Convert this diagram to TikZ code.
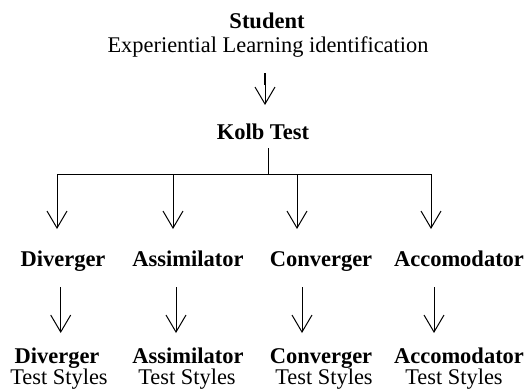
\documentclass[tikz,border=0pt]{standalone}
\usepackage{fontspec}
\setmainfont{Liberation Serif}
\usetikzlibrary{arrows.meta}
\begin{document}
\begin{tikzpicture}[x=1pt,y=-1pt,
  lbl/.style={inner sep=0pt,anchor=base,font=\fontsize{22.4}{24}\selectfont},
  blbl/.style={inner sep=0pt,anchor=base,font=\fontsize{22.5}{24}\selectfont\bfseries},
  arr/.style={line width=1pt,-{Straight Barb[length=17pt,width=20pt,line width=1pt]}},
  ln/.style={line width=1pt}]
\useasboundingbox (0,0) rectangle (527,389);
\node[blbl] (stu) at (267,28) {Student};
\node[lbl] (exp) at (268,52) {Experiential Learning identification};
\node[blbl] (kolb) at (263,139) {Kolb Test};
% first arrow
\coordinate (s0) at (265,73);
\coordinate (s0b) at (265,85);
\coordinate (e0) at (265,105);
\draw[line width=2.2pt] (s0) -- (s0b);
\draw[arr] (s0) -- (e0);
% tree
\coordinate (k0) at (268,148);
\coordinate (k1) at (268,174);
\coordinate (h1) at (57,174);
\coordinate (h2) at (173,174);
\coordinate (h3) at (297,174);
\coordinate (h4) at (431,174);
\draw[ln] (k0) -- (k1);
\draw[ln] (h1) -- (h4);
\foreach \i/\x in {1/57,2/173,3/297,4/431}{
  \coordinate (t\i) at (\x,229);
  \draw[arr] (h\i) -- (t\i);
}
% row 2 labels
\node[blbl] (div) at (63,266) {Diverger};
\node[blbl] (ass) at (188,266) {Assimilator};
\node[blbl] (con) at (321,266) {Converger};
\node[blbl] (acc) at (459,266) {Accomodator};
% second arrows
\foreach \i/\x in {1/60.7,2/176,3/302,4/434}{
  \coordinate (u\i) at (\x,287);
  \coordinate (v\i) at (\x,333);
  \draw[arr] (u\i) -- (v\i);
}
% bottom labels
\node[blbl] (divb) at (57,363) {Diverger};
\node[lbl] (divt) at (59,384) {Test Styles};
\node[blbl] (assb) at (188,363) {Assimilator};
\node[lbl] (asst) at (187,384) {Test Styles};
\node[blbl] (conb) at (321,363) {Converger};
\node[lbl] (cont) at (324,384) {Test Styles};
\node[blbl] (accb) at (459,363) {Accomodator};
\node[lbl] (acct) at (454,384) {Test Styles};
\end{tikzpicture}
\end{document}
